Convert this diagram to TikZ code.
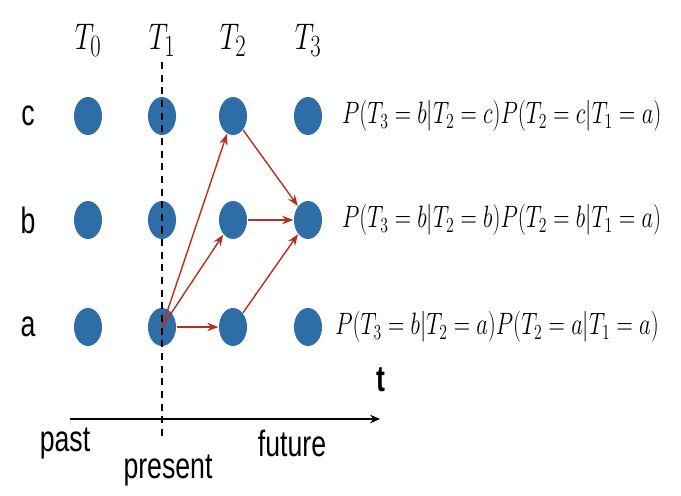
\documentclass[tikz,border=0pt]{standalone}
\usepackage[no-math]{fontspec}
\setmainfont{Liberation Sans}
\usepackage{tikz}
\usetikzlibrary{arrows.meta, shapes.geometric}
\definecolor{dotc}{HTML}{2E6DA6}
\definecolor{arrc}{HTML}{B5301E}
\newcommand{\squash}[1]{\scalebox{0.73}[1]{#1}}
\newcommand{\msquash}[1]{\scalebox{0.775}[1.06]{$#1$}}

\begin{document}
\begin{tikzpicture}[>=Stealth, line width=0.8pt,
      dot/.style={ellipse, fill=dotc, minimum width=0.7cm, minimum height=0.95cm, inner sep=0pt},
      hdr/.style={font=\Huge},
      lbl/.style={font=\fontsize{26}{28}\selectfont},
      prob/.style={anchor=west, font=\huge},
      trans/.style={draw=arrc, line width=1pt, -{Stealth[length=8pt, width=6pt]}}]
    \useasboundingbox (0,0) rectangle (17.025,12.375);
    % time slices
    \node[hdr] (h0) at (2.2,11.37) {\msquash{T_0}};
    \node[hdr] (h1) at (4.05,11.37) {\msquash{T_1}};
    \node[hdr] (h2) at (5.825,11.37) {\msquash{T_2}};
    \node[hdr] (h3) at (7.7,11.37) {\msquash{T_3}};
    % states
    \node[lbl] (lc) at (0.7,9.475) {\squash{c}};
    \node[lbl] (lb) at (0.7,6.875) {\squash{b}};
    \node[lbl] (la) at (0.7,4.2) {\squash{a}};
    \node[dot] (c0) at (2.2,9.475) {};  \node[dot] (c1) at (4.05,9.475) {};
    \node[dot] (c2) at (5.825,9.475) {}; \node[dot] (c3) at (7.7,9.475) {};
    \node[dot] (b0) at (2.2,6.875) {};  \node[dot] (b1) at (4.05,6.875) {};
    \node[dot] (b2) at (5.825,6.875) {}; \node[dot] (b3) at (7.7,6.875) {};
    \node[dot] (a0) at (2.2,4.2) {};    \node[dot] (a1) at (4.05,4.2) {};
    \node[dot] (a2) at (5.825,4.2) {};  \node[dot] (a3) at (7.7,4.2) {};
    % present
    \coordinate (ptop) at (4.05,10.825);
    \coordinate (pbot) at (4.05,1.375);
    \draw[line width=1.4pt, dash pattern=on 5pt off 4pt] (ptop) -- (pbot);
    % paths
    \draw[trans] (a1.center) -- (c2);
    \draw[trans] (a1.center) -- (b2);
    \draw[trans] (a1) -- (a2);
    \draw[trans] (c2) -- (b3);
    \draw[trans] (b2) -- (b3);
    \draw[trans] (a2) -- (b3);
    % probabilities
    \node[prob] (pc) at (8.42,9.475) {\msquash{P(T_3=b|T_2=c)P(T_2=c|T_1=a)}};
    \node[prob] (pb) at (8.42,6.875) {\msquash{P(T_3=b|T_2=b)P(T_2=b|T_1=a)}};
    \node[prob] (pa) at (8.25,4.2) {\msquash{P(T_3=b|T_2=a)P(T_2=a|T_1=a)}};
    % time axis
    \coordinate (ax0) at (1.75,1.9);
    \coordinate (ax1) at (9.5,1.9);
    \draw[-{Stealth[length=7pt, width=6pt]}, line width=1.1pt] (ax0) -- (ax1);
    \node[lbl] (tt) at (9.525,2.875) {\squash{\textbf{t}}};
    \node[lbl] (past) at (1.625,1.3) {\squash{past}};
    \node[lbl] (pres) at (4.2,0.625) {\squash{present}};
    \node[lbl] (fut) at (7.3,1.3) {\squash{future}};
  \end{tikzpicture}
\end{document}
